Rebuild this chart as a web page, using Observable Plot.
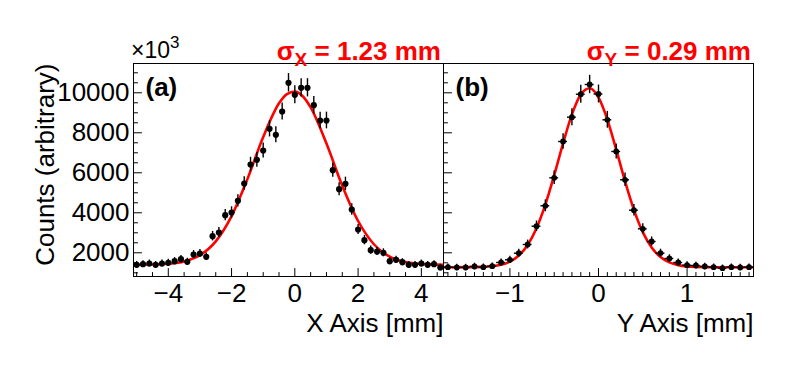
<!DOCTYPE html>
<html><head><meta charset="utf-8">
<script src="https://cdn.jsdelivr.net/npm/d3@7"></script>
<script src="https://cdn.jsdelivr.net/npm/@observablehq/plot@0.6"></script>
<style>
body{margin:0;background:#fff;}
#wrap{position:relative;width:788px;height:384px;overflow:hidden;background:#fff;}
#wrap svg{position:absolute;left:0;top:0;}
</style></head>
<body><div id="wrap"></div>
<script>
// ---- data: panel (a) X profile ----
const xA = [-5.0,-4.8,-4.6,-4.4,-4.2,-4.0,-3.8,-3.6,-3.4,-3.2,-3.0,-2.8,-2.6,-2.4,-2.2,-2.0,-1.8,-1.6,-1.4,-1.2,-1.0,-0.8,-0.6,-0.4,-0.2,0.0,0.2,0.4,0.6,0.8,1.0,1.2,1.4,1.6,1.8,2.0,2.2,2.4,2.6,2.8,3.0,3.2,3.4,3.6,3.8,4.0,4.2,4.4,4.6];
const yA = [1400,1430,1465,1400,1465,1500,1580,1680,1550,1915,1965,1800,2830,3015,3880,4015,4600,5465,6415,6650,7115,8200,7900,9065,10500,9900,10250,10250,9380,8615,8615,6130,5180,5450,4165,3165,2630,2130,2065,2000,1580,1650,1530,1400,1400,1465,1400,1430,1265];
const errA = [168,170,172,168,172,174,179,184,177,197,199,191,239,247,280,285,305,333,360,367,380,407,400,428,461,448,456,456,436,418,418,352,324,332,290,253,231,208,204,201,179,183,176,168,168,172,168,170,160];
const fitXA = [-5.1,-4.5,-4,-3.5,-3,-2.5,-2,-1.5,-1,-0.5,-0.25,0,0.25,0.5,1,1.5,2,2.5,3,3.5,4,4.5,4.7];
const fitYA = [1402,1412,1449,1566,1879,2572,3835,5684,7790,9480,9939,10061,9828,9269,7460,5357,3590,2428,1808,1538,1439,1410,1395];

// ---- data: panel (b) Y profile ----
const xB = [-1.7,-1.6,-1.5,-1.4,-1.3,-1.2,-1.1,-1.0,-0.9,-0.8,-0.7,-0.6,-0.5,-0.4,-0.3,-0.2,-0.1,0.0,0.1,0.2,0.3,0.4,0.5,0.6,0.7,0.8,0.9,1.0,1.1,1.2,1.3,1.4,1.5,1.6,1.7];
const yB = [1280,1265,1265,1315,1280,1330,1515,1650,1980,2415,3330,4350,5750,7565,8780,9930,10415,9940,8650,7065,5650,4130,3200,2565,1980,1715,1515,1380,1365,1315,1280,1230,1280,1265,1280];
const errB = [161,160,160,163,161,164,175,183,200,221,260,297,341,391,422,448,459,449,419,378,338,289,255,228,200,186,175,167,166,163,161,158,161,160,161];
const binHalfB = 0.05;
const fitXB = [-1.75,-1.5,-1.3,-1.1,-1.0,-0.9,-0.8,-0.7,-0.6,-0.5,-0.4,-0.3,-0.2,-0.1,0,0.1,0.2,0.3,0.4,0.5,0.6,0.7,0.8,0.9,1.1,1.3,1.5,1.75];
const fitYB = [1280,1282,1298,1403,1560,1863,2394,3231,4410,5880,7473,8922,9919,10226,9768,8659,7157,5569,4148,3036,2265,1787,1519,1383,1295,1281,1280,1280];

// ---- axes ----
const yDomain = [815, 11465];
const xDomainA = [-5.1, 4.7];
const xDomainB = [-1.75, 1.75];
const yMajor = [2000,4000,6000,8000,10000];
const yMinor = [1000,1500,2500,3000,3500,4500,5000,5500,6500,7000,7500,8500,9000,9500,10500,11000];
const xMajorA = [-4,-2,0,2,4];
const xMinorA = [-5,-4.5,-3.5,-3,-2.5,-1.5,-1,-0.5,0.5,1,1.5,2.5,3,3.5,4.5];
const xMajorB = [-1,0,1];
const xMinorB = [-1.7,-1.6,-1.5,-1.4,-1.3,-1.2,-1.1,-0.9,-0.8,-0.7,-0.6,-0.5,-0.4,-0.3,-0.2,-0.1,0.1,0.2,0.3,0.4,0.5,0.6,0.7,0.8,0.9,1.1,1.2,1.3,1.4,1.5,1.6,1.7];
const yTitle = "Counts (arbitrary)";
const xTitleA = "X Axis [mm]";
const xTitleB = "Y Axis [mm]";

const W = 788, H = 384;
const FONT = "'Liberation Sans', Arial, Helvetica, sans-serif";
const FS = 26;
const tickShape = {draw(ctx, l) { ctx.moveTo(0, 0); ctx.lineTo(0, -l); }};
const fmt = d => d < 0 ? "\u2212" + Math.abs(d) : String(d);

function ticks(xMajor, xMinor) {
  return [
    Plot.vector(yMinor, {y: d => d, frameAnchor: "left", rotate: 90, length: 4, anchor: "start", shape: tickShape, stroke: "black", strokeWidth: 1}),
    Plot.vector(yMajor, {y: d => d, frameAnchor: "left", rotate: 90, length: 8, anchor: "start", shape: tickShape, stroke: "black", strokeWidth: 1}),
    Plot.vector(xMinor, {x: d => d, frameAnchor: "bottom", rotate: 0, length: 4, anchor: "start", shape: tickShape, stroke: "black", strokeWidth: 1}),
    Plot.vector(xMajor, {x: d => d, frameAnchor: "bottom", rotate: 0, length: 8, anchor: "start", shape: tickShape, stroke: "black", strokeWidth: 1}),
    Plot.axisX(xMajor, {tickSize: 0, tickPadding: 7, fontSize: FS, tickFormat: fmt, label: null, fill: "black"})
  ];
}

const common = {width: W, height: H, marginTop: 63, marginBottom: H - 276,
  style: {background: "transparent", fontFamily: FONT, color: "black", overflow: "visible"}};

const rowsA = xA.map((x, i) => ({x, y: yA[i], e: errA[i]}));
const fitA = fitXA.map((x, i) => ({x, y: fitYA[i]}));
const rowsB = xB.map((x, i) => ({x, y: yB[i], e: errB[i]}));
const fitB = fitXB.map((x, i) => ({x, y: fitYB[i]}));

const plotA = Plot.plot({
  ...common, marginLeft: 133, marginRight: W - 443,
  x: {domain: xDomainA}, y: {domain: yDomain},
  marks: [
    ...ticks(xMajorA, xMinorA),
    Plot.axisY(yMajor, {tickSize: 0, tickPadding: 4, fontSize: FS, tickFormat: d => String(d), label: null, fill: "black"}),
    Plot.text([xTitleA], {text: d => d, frameAnchor: "bottom-right", textAnchor: "end", lineAnchor: "bottom", dy: 55, fontSize: FS, fill: "black"}),
    Plot.text([yTitle], {text: d => d, frameAnchor: "top-left", rotate: -90, textAnchor: "end", lineAnchor: "bottom", dx: -80, fontSize: FS, fill: "black"}),
    Plot.text(["(a)"], {text: d => d, frameAnchor: "top-left", textAnchor: "start", lineAnchor: "bottom", dx: 12, dy: 32, fontSize: 26, fontWeight: "bold", fill: "black"}),
    Plot.line(fitA, {x: "x", y: "y", stroke: "#ff0000", strokeWidth: 2.6, curve: "monotone-x", clip: true}),
    Plot.ruleX(rowsA, {x: "x", y1: d => d.y - d.e, y2: d => d.y + d.e, stroke: "black", strokeWidth: 1.4}),
    Plot.dot(rowsA, {x: "x", y: "y", r: 3.1, fill: "black", stroke: null}),
    Plot.frame({stroke: "black", strokeWidth: 1})
  ]
});

const plotB = Plot.plot({
  ...common, marginLeft: 443, marginRight: W - 753,
  x: {domain: xDomainB}, y: {domain: yDomain, axis: null},
  marks: [
    ...ticks(xMajorB, xMinorB),
    Plot.text([xTitleB], {text: d => d, frameAnchor: "bottom-right", textAnchor: "end", lineAnchor: "bottom", dy: 55, fontSize: FS, fill: "black"}),
    Plot.text(["(b)"], {text: d => d, frameAnchor: "top-left", textAnchor: "start", lineAnchor: "bottom", dx: 12, dy: 32, fontSize: 26, fontWeight: "bold", fill: "black"}),
    Plot.line(fitB, {x: "x", y: "y", stroke: "#ff0000", strokeWidth: 2.6, curve: "monotone-x", clip: true}),
    Plot.ruleX(rowsB, {x: "x", y1: d => d.y - d.e, y2: d => d.y + d.e, stroke: "black", strokeWidth: 1.4}),
    Plot.ruleY(rowsB, {y: "y", x1: d => d.x - binHalfB, x2: d => d.x + binHalfB, stroke: "black", strokeWidth: 1.4}),
    Plot.dot(rowsB, {x: "x", y: "y", r: 2.9, fill: "black", stroke: null}),
    Plot.frame({stroke: "black", strokeWidth: 1})
  ]
});

const wrap = document.getElementById("wrap");
wrap.appendChild(plotA);
wrap.appendChild(plotB);

// header texts (exponent and fitted widths)
const ns = "http://www.w3.org/2000/svg";
const hdr = document.createElementNS(ns, "svg");
hdr.setAttribute("width", W); hdr.setAttribute("height", H);
hdr.style.fontFamily = FONT;
hdr.innerHTML = `
<text x="131" y="58" font-size="23" fill="black">×10<tspan font-size="17" dy="-10">3</tspan></text>
<text x="441" y="60" text-anchor="end" font-size="26" font-weight="bold" fill="#ff0000">σ<tspan font-size="19" dy="6">X</tspan><tspan dy="-6"> = 1.23 mm</tspan></text>
<text x="751" y="60" text-anchor="end" font-size="26" font-weight="bold" fill="#ff0000">σ<tspan font-size="19" dy="6">Y</tspan><tspan dy="-6"> = 0.29 mm</tspan></text>`;
wrap.appendChild(hdr);
</script>
</body></html>
